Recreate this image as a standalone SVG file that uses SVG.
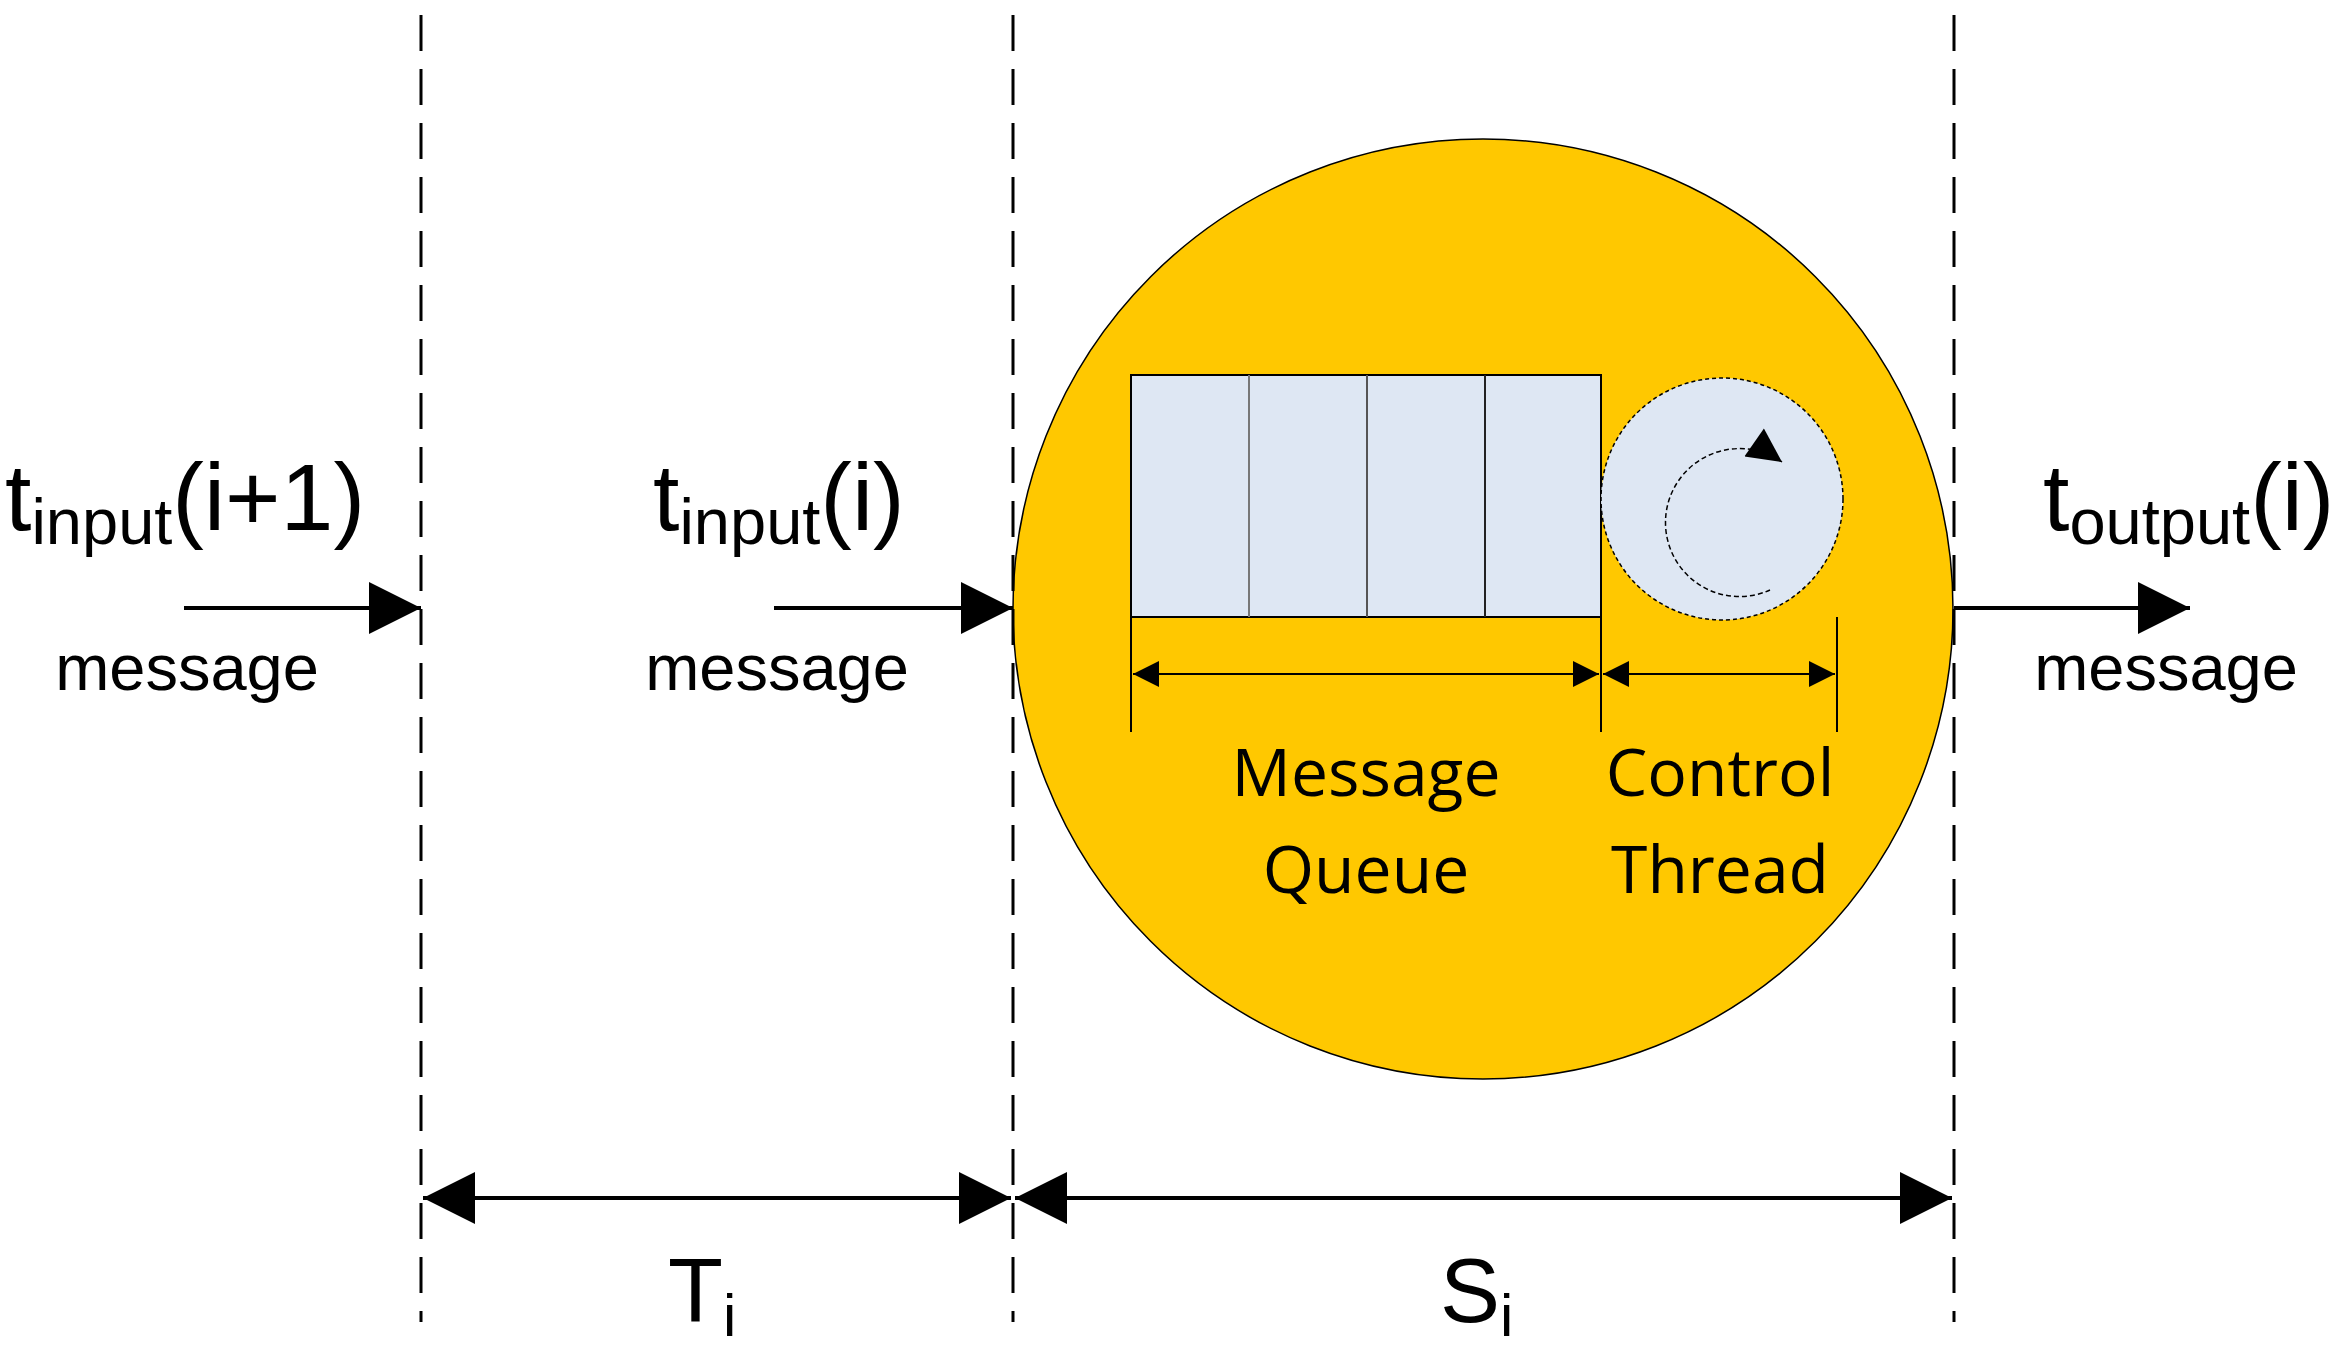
<svg xmlns="http://www.w3.org/2000/svg" width="2342" height="1370" viewBox="0 0 2342 1370">
<style>
.dash{stroke:#000;stroke-width:3;stroke-dasharray:36,18;fill:none}
.ln{stroke:#000;stroke-width:4;fill:none}
.thin{stroke:#000;stroke-width:2;fill:none}
.t{font-family:"Liberation Sans",Arial,sans-serif;fill:#000}
.c{font-family:"Open Sans","Liberation Sans",sans-serif;fill:#000;font-size:66px;text-anchor:middle}
</style>
<defs>
<marker id="big" viewBox="0 0 10 10" refX="10" refY="5" markerWidth="82" markerHeight="52" markerUnits="userSpaceOnUse" orient="auto-start-reverse"><path d="M0,0L10,5L0,10z" fill="#000"/></marker>
<marker id="sm" viewBox="0 0 10 10" refX="10" refY="5" markerWidth="34" markerHeight="26" markerUnits="userSpaceOnUse" orient="auto-start-reverse"><path d="M0,0L10,5L0,10z" fill="#000"/></marker>
<marker id="rot" viewBox="0 0 10 10" refX="10" refY="5" markerWidth="40" markerHeight="34" markerUnits="userSpaceOnUse" orient="auto"><path d="M0,0L10,5L0,10z" fill="#000"/></marker>
</defs>
<rect width="2342" height="1370" fill="#fff"/>
<g id="server">
<circle cx="1483" cy="609" r="470" fill="#FFC800" stroke="#000" stroke-width="1.5"/>
</g>
<g id="queue">
<rect x="1131" y="375" width="470" height="242" fill="#DEE7F3" stroke="#000" stroke-width="2"/>
<line x1="1249" y1="375" x2="1249" y2="617" stroke="#777" stroke-width="2"/>
<line x1="1367" y1="375" x2="1367" y2="617" stroke="#555" stroke-width="2"/>
<line x1="1485" y1="375" x2="1485" y2="617" stroke="#222" stroke-width="2"/>
<text class="c" x="1366" y="796">Message</text>
<text class="c" x="1366" y="893">Queue</text>
</g>
<g id="thread">
<circle cx="1722" cy="499" r="121" fill="#DEE7F3" stroke="#000" stroke-width="1.5" stroke-dasharray="4,3"/>
<path d="M1770,590 A74,74 0 1 1 1782,462" fill="none" stroke="#000" stroke-width="1.5" stroke-dasharray="5,3" marker-end="url(#rot)"/>
<text class="c" x="1720" y="796">Control</text>
<text class="c" x="1720" y="893">Thread</text>
</g>
<g id="connectors">
<line class="dash" x1="421" y1="15" x2="421" y2="1322"/>
<line class="dash" x1="1013" y1="15" x2="1013" y2="1322"/>
<line class="dash" x1="1954" y1="15" x2="1954" y2="1322"/>
<line class="ln" x1="184" y1="608" x2="421" y2="608" marker-end="url(#big)"/>
<line class="ln" x1="774" y1="608" x2="1013" y2="608" marker-end="url(#big)"/>
<line class="ln" x1="1954" y1="608" x2="2190" y2="608" marker-end="url(#big)"/>
<line class="ln" x1="423" y1="1198" x2="1011" y2="1198" marker-start="url(#big)" marker-end="url(#big)"/>
<line class="ln" x1="1015" y1="1198" x2="1952" y2="1198" marker-start="url(#big)" marker-end="url(#big)"/>
<line class="thin" x1="1131" y1="617" x2="1131" y2="732"/>
<line class="thin" x1="1601" y1="617" x2="1601" y2="732"/>
<line class="thin" x1="1837" y1="617" x2="1837" y2="732"/>
<line class="thin" x1="1133" y1="674" x2="1599" y2="674" marker-start="url(#sm)" marker-end="url(#sm)"/>
<line class="thin" x1="1603" y1="674" x2="1835" y2="674" marker-start="url(#sm)" marker-end="url(#sm)"/>
</g>
<g id="labels">
<text class="t" x="5" y="530" font-size="95">t<tspan font-size="65" dy="14">input</tspan><tspan dy="-14">(i+1)</tspan></text>
<text class="t" x="653" y="530" font-size="95">t<tspan font-size="65" dy="14">input</tspan><tspan dy="-14">(i)</tspan></text>
<text class="t" x="2043" y="530" font-size="95">t<tspan font-size="65" dy="14">output</tspan><tspan dy="-14">(i)</tspan></text>
<text class="t" x="187" y="690" font-size="65" text-anchor="middle">message</text>
<text class="t" x="777" y="690" font-size="65" text-anchor="middle">message</text>
<text class="t" x="2166" y="690" font-size="65" text-anchor="middle">message</text>
<text class="t" x="668" y="1322" font-size="90">T<tspan font-size="60" dy="14">i</tspan></text>
<text class="t" x="1440" y="1322" font-size="90">S<tspan font-size="60" dy="14">i</tspan></text>
</g>
</svg>
